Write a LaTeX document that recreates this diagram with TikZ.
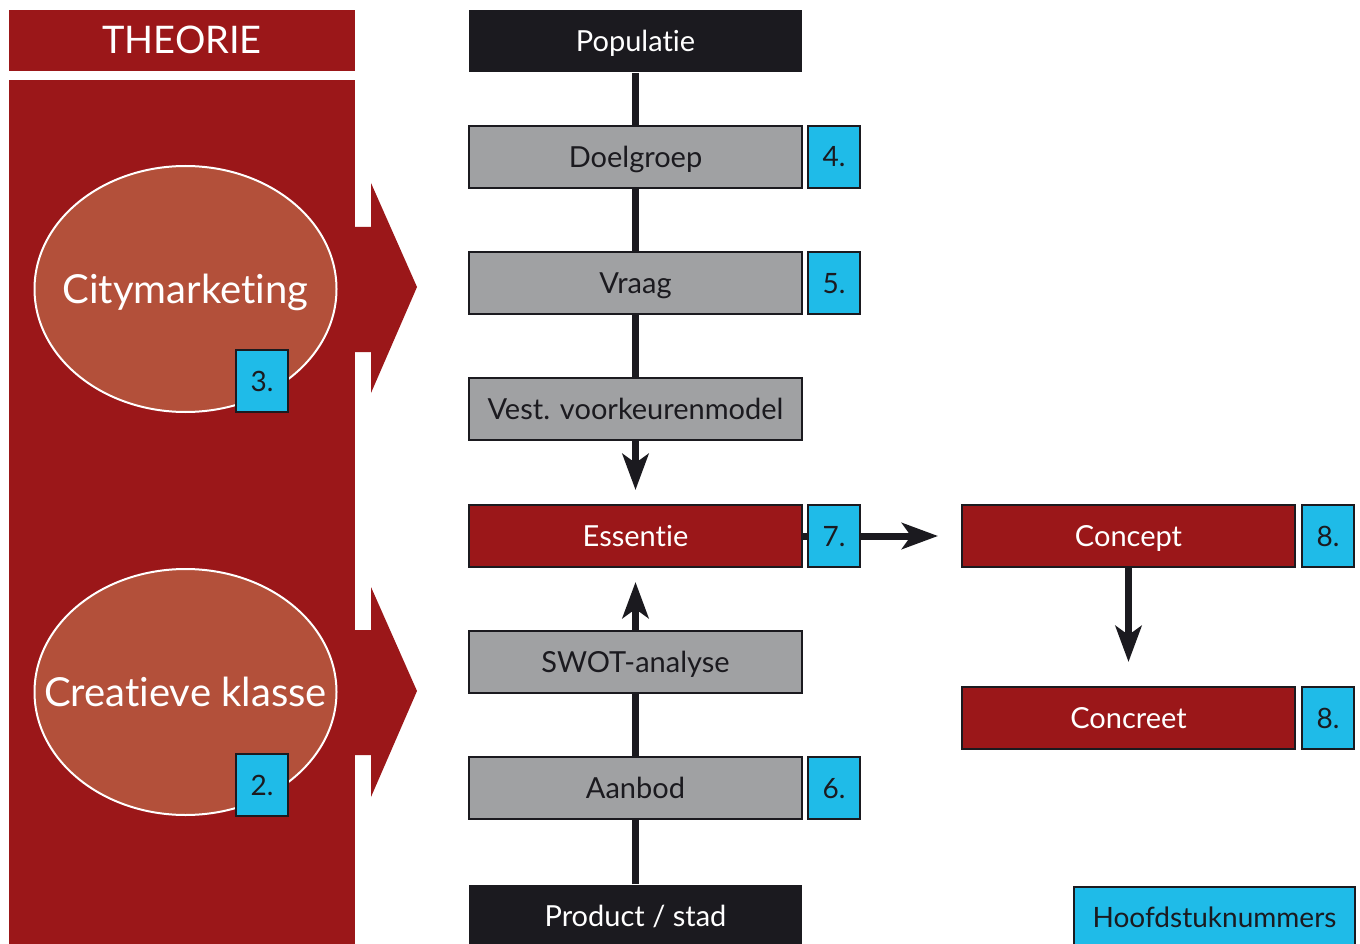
\documentclass[tikz,border=0pt]{standalone}
\usepackage{fontspec}
\setmainfont[Ligatures={NoCommon,NoRare}]{Lato}
\usetikzlibrary{arrows.meta,shapes.geometric}
\definecolor{theored}{HTML}{9B1719}
\definecolor{ovalred}{HTML}{B3503A}
\definecolor{numcyan}{HTML}{1FBBE8}
\definecolor{boxgray}{HTML}{A0A1A3}
\definecolor{ink}{HTML}{1B1A1F}
\tikzset{
  x=1pt, y=-1pt,
  basebox/.style={rectangle, minimum width=333pt, minimum height=62pt, inner sep=0pt,
    draw=ink, line width=2pt, text height=21pt, text depth=0pt,
    font=\fontsize{29}{32}\selectfont},
  greybox/.style={basebox, fill=boxgray, text=ink},
  redbox/.style={basebox, fill=theored, text=white},
  blackbox/.style={basebox, fill=ink, text=white, draw=none},
  numbox/.style={rectangle, minimum width=52pt, minimum height=62pt, inner sep=0pt,
    draw=ink, line width=2pt, fill=numcyan, text=ink, text height=20pt, text depth=0pt,
    font=\fontsize{28}{30}\selectfont},
  oval/.style={ellipse, minimum width=302pt, minimum height=246pt, inner sep=0pt,
    fill=ovalred, draw=white, line width=2pt},
  ovaltext/.style={text=white, inner sep=0pt, text height=29pt, text depth=0pt,
    font=\fontsize{40}{44}\selectfont},
  link/.style={draw=ink, line width=7pt},
  flow/.style={link, -{Stealth[length=36pt,width=26pt,inset=9pt]}},
}
\begin{document}
\begin{tikzpicture}
\useasboundingbox (0,0) rectangle (1360,944);

% theory column
\node[fill=theored, minimum width=346pt, minimum height=61pt, inner sep=0pt,
  text=white, text height=27pt, text depth=0pt,
  font=\fontsize{38}{40}\selectfont] (theorie) at (182,40.5) {THEORIE};
\fill[theored] (9,80) rectangle (355,950);
\fill[theored] (355,227) -- (371,227) -- (371,183) -- (417,287) -- (371,393)
  -- (371,352) -- (355,352) -- cycle;
\fill[theored] (355,630) -- (371,630) -- (371,587) -- (417,691) -- (371,797)
  -- (371,755) -- (355,755) -- cycle;

\node[oval] (city) at (185.5,289) {};
\node[ovaltext] (citytext) at (city.center) {Citymarketing};
\node[numbox] (n3) at (262,381) {3.};
\node[oval] (crea) at (185.5,692) {};
\node[ovaltext] (creatext) at (crea.center) {Creatieve klasse};
\node[numbox] (n2) at (262,785) {2.};

% central column
\node[blackbox] (pop) at (635.5,41) {Populatie};
\node[greybox] (doel) at (635.5,157) {Doelgroep};
\node[greybox] (vraag) at (635.5,283) {Vraag};
\node[greybox] (vest) at (635.5,409) {Vest. voorkeurenmodel};
\node[redbox] (ess) at (635.5,536) {Essentie};
\node[greybox] (swot) at (635.5,662) {SWOT-analyse};
\node[greybox] (aan) at (635.5,788) {Aanbod};
\node[blackbox, minimum height=66pt] (prod) at (635.5,918) {\raisebox{2pt}{Product / stad}};

% right column
\node[redbox] (concept) at (1128.5,536) {Concept};
\node[redbox] (concreet) at (1128.5,718) {Concreet};

% connectors
\draw[link] (pop.south) -- (doel.north);
\draw[link] (doel.south) -- (vraag.north);
\draw[link] (vraag.south) -- (vest.north);
\draw[flow, shorten >=14pt] (vest.south) -- (ess.north);
\draw[link] (prod.north) -- (aan.south);
\draw[link] (aan.north) -- (swot.south);
\draw[flow, shorten >=14pt] (swot.north) -- (ess.south);
\draw[flow, shorten >=23pt] (ess.east) -- (concept.west);
\draw[flow, shorten >=24pt] (concept.south) -- (concreet.north);

% chapter numbers
\node[numbox] (n4) at (834,157) {4.};
\node[numbox] (n5) at (834,283) {5.};
\node[numbox] (n7) at (834,536) {7.};
\node[numbox] (n6) at (834,788) {6.};
\node[numbox] (n8a) at (1328,536) {8.};
\node[numbox] (n8b) at (1328,718) {8.};

% legend
\node[numbox, minimum width=281pt, minimum height=66pt, anchor=north west]
  (legend) at (1073,886) {\raisebox{3pt}{Hoofdstuknummers}};
\end{tikzpicture}
\end{document}
